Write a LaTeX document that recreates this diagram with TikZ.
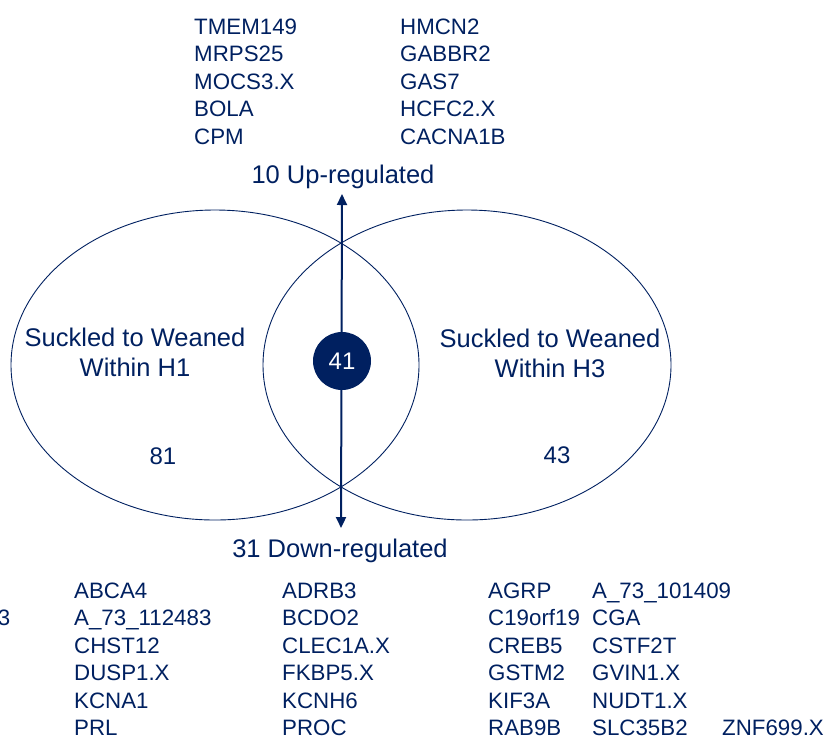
\documentclass[tikz,border=0pt]{standalone}
\usepackage{fontspec}
\setmainfont{Liberation Sans}
\usetikzlibrary{shapes.geometric, arrows.meta, positioning}
\definecolor{vennblue}{RGB}{0, 32, 96}

\begin{document}
\begin{tikzpicture}[x=1pt, y=-1pt,
  setring/.style={draw=vennblue, line width=0.9pt, ellipse, minimum width=408pt, minimum height=310pt, inner sep=0pt},
  setlabel/.style={align=center, text=vennblue, inner sep=0pt, font=\fontsize{25.5}{30}\selectfont},
  gene/.style={anchor=base west, inner sep=0pt, text=vennblue, font=\fontsize{22.3}{26}\selectfont},
  count/.style={anchor=base, inner sep=0pt, text=vennblue, font=\fontsize{24}{28}\selectfont},
  regarrow/.style={draw=vennblue, line width=2pt, {Triangle[length=11pt, width=10pt]}-{Triangle[length=11pt, width=10pt]}}
]
  \useasboundingbox (0,0) rectangle (826,740);

  \node[setring] (hone) at (215,365) {};
  \node[setring] (hthree) at (467,365) {};

  \node[setlabel] (honelabel) at (135,352) {Suckled to Weaned\\Within H1};
  \node[setlabel] (hthreelabel) at (550,353) {Suckled to Weaned\\Within H3};
  \node[count] (honecount) at (163,464) {81};
  \node[count] (hthreecount) at (557,463) {43};

  \node[setlabel, anchor=base] (up) at (343,183) {10 Up-regulated};
  \node[setlabel, anchor=base] (down) at (340,557) {31 Down-regulated};
  \coordinate (uptip) at (342,194);
  \coordinate (downtip) at (341,528);
  \draw[regarrow] (downtip) -- (uptip);

  \node[circle, fill=vennblue, minimum size=58pt, inner sep=0pt, text=white, font=\fontsize{24}{28}\selectfont] (core) at (342,361) {41};

  \foreach \g [count=\i] in {TMEM149, MRPS25, MOCS3.X, BOLA, CPM}
    \node[gene] (upa\i) at (194, 6.5+27.5*\i) {\g};
  \foreach \g [count=\i] in {HMCN2, GABBR2, GAS7, HCFC2.X, CACNA1B}
    \node[gene] (upb\i) at (400, 6.5+27.5*\i) {\g};

  \node[gene, anchor=base east] (dnclip) at (10.5,625.5) {3};
  \foreach \g [count=\i] in {ABCA4, A\_73\_112483, CHST12, DUSP1.X, KCNA1, PRL}
    \node[gene] (dna\i) at (74, 570.5+27.5*\i) {\g};
  \foreach \g [count=\i] in {ADRB3, BCDO2, CLEC1A.X, FKBP5.X, KCNH6, PROC}
    \node[gene] (dnb\i) at (282, 570.5+27.5*\i) {\g};
  \foreach \g [count=\i] in {AGRP, C19orf19, CREB5, GSTM2, KIF3A, RAB9B}
    \node[gene] (dnc\i) at (488, 570.5+27.5*\i) {\g};
  \foreach \g [count=\i] in {A\_73\_101409, CGA, CSTF2T, GVIN1.X, NUDT1.X, SLC35B2}
    \node[gene] (dnd\i) at (592, 570.5+27.5*\i) {\g};
  \node[gene] (dne6) at (722, 735.5) {ZNF699.X};
\end{tikzpicture}
\end{document}
